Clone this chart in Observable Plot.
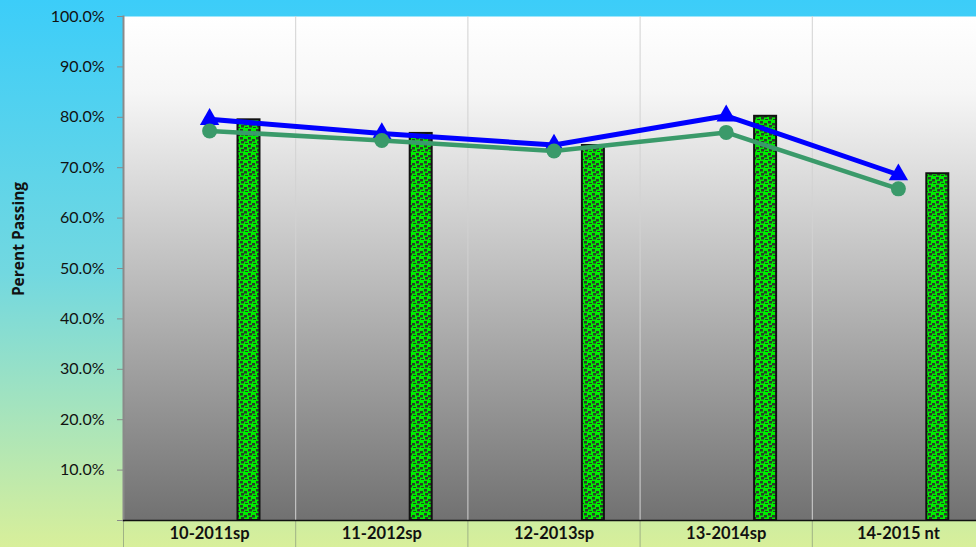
<!DOCTYPE html>
<html><head>
<meta charset="utf-8">
<script src="https://cdn.jsdelivr.net/npm/d3@7"></script>
<script src="https://cdn.jsdelivr.net/npm/@observablehq/plot@0.6"></script>
<style>
html,body{margin:0;padding:0;}
body{width:976px;height:547px;overflow:hidden;background:linear-gradient(to bottom,#3ccdf9 0%,#72d8e0 50%,#d8ef9a 100%);}
#chart svg{display:block;}
</style></head><body><div id="chart"></div>
<script>
const categories = ["10-2011sp", "11-2012sp", "12-2013sp", "13-2014sp", "14-2015 nt"];
const bluePct = [79.6, 76.8, 74.5, 80.3, 68.6];
const greenPct = [77.3, 75.4, 73.3, 77.0, 65.8];
const barPct = [79.5, 76.8, 74.4, 80.2, 68.8];
const yTicks = [0, 10, 20, 30, 40, 50, 60, 70, 80, 90, 100];
const yLabel = "Perent Passing";

const rows = categories.map((c, i) => ({cat: c, blue: bluePct[i] / 100, green: greenPct[i] / 100, bar: barPct[i] / 100}));

const W = 976, H = 547, ML = 123, MR = 0, MT = 16, MB = 27;
const xRight = 984; // plot area runs slightly past the right edge
const bandHalf = (xRight - ML) / categories.length / 2;

const plot = Plot.plot({
  width: W, height: H,
  marginLeft: ML, marginRight: MR, marginTop: MT, marginBottom: MB,
  style: {background: "transparent", fontFamily: "Lato, 'Open Sans', sans-serif", overflow: "hidden", color: "#111"},
  x: {type: "band", domain: categories, padding: 0, round: false, range: [ML, xRight]},
  y: {domain: [0, 1]},
  marks: [
    Plot.frame({fill: "url(#plotBg)", stroke: null}),
    Plot.ruleX(categories.slice(1), {x: d => d, dx: -bandHalf, stroke: "#d2d2d2", strokeWidth: 1}),
    Plot.ruleX(categories, {x: d => d, dx: -bandHalf, y1: 0, y2: 0, insetBottom: -MB, stroke: "#9fb285", strokeWidth: 1}),
    Plot.barY(rows, {x: "cat", y: "bar", fill: "url(#dots)", stroke: "#111", strokeWidth: 2, insetLeft: 114.5, insetRight: 35.7}),
    Plot.frame({anchor: "left", stroke: "#8a8a8a", strokeWidth: 2}),
    Plot.ruleY([0], {stroke: "#111", strokeWidth: 1.5}),
    Plot.axisY({ticks: yTicks.map(v => v / 100), tickFormat: d => d === 0 ? "" : (d * 100).toFixed(1) + "%", tickSize: 6, tickPadding: 13, stroke: "#8a8a8a", fontSize: 16, label: null}),
    Plot.axisX({tickSize: 0, tickPadding: 7, fontSize: 16.5, fontWeight: "bold", label: null}),
    Plot.lineY(rows, {x: "cat", y: "blue", stroke: "#0000ff", strokeWidth: 5}),
    Plot.dot(rows, {x: "cat", y: "blue", symbol: "triangle", r: 7.2, fill: "#0000ff", stroke: null}),
    Plot.lineY(rows, {x: "cat", y: "green", stroke: "#3a9a6a", strokeWidth: 4.5}),
    Plot.dot(rows, {x: "cat", y: "green", r: 7.5, fill: "#3a9a6a", stroke: null})
  ]
});

const svg = d3.select(plot);
const defs = svg.insert("defs", ":first-child");
const g = defs.append("linearGradient").attr("id", "plotBg").attr("x1", 0).attr("y1", 0).attr("x2", 0).attr("y2", 1);
g.append("stop").attr("offset", "0%").attr("stop-color", "#ffffff");
g.append("stop").attr("offset", "15%").attr("stop-color", "#f6f6f6");
g.append("stop").attr("offset", "100%").attr("stop-color", "#717171");
const p = defs.append("pattern").attr("id", "dots").attr("patternUnits", "userSpaceOnUse").attr("width", 8).attr("height", 8);
p.append("rect").attr("width", 8).attr("height", 8).attr("fill", "#00ee00");
[[0, 1], [4, 3], [1, 5], [5, 7]].forEach(([x, y]) => p.append("rect").attr("x", x).attr("y", y).attr("width", 3).attr("height", 2.5).attr("fill", "#2c3a2c"));

svg.append("text")
  .attr("transform", "translate(24,239) rotate(-90)")
  .attr("text-anchor", "middle")
  .style("font-family", "'Open Sans', Lato, sans-serif")
  .style("font-size", "15.5px")
  .style("font-weight", "bold")
  .attr("fill", "#111")
  .text(yLabel);

document.getElementById("chart").appendChild(plot);
</script>
</body></html>
